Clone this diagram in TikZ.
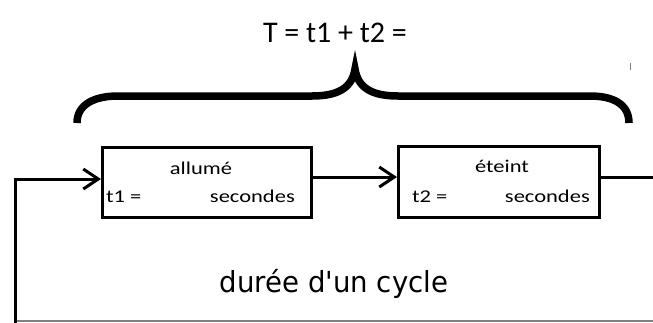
\documentclass[tikz,border=0pt]{standalone}
\usepackage{fontspec}
\setmainfont{Carlito}
\newfontfamily\boxfont[FakeStretch=1.25]{Carlito}
\newfontfamily\cyclefont[FakeStretch=0.95]{DejaVu Sans}
\usetikzlibrary{arrows.meta}
\begin{document}
\begin{tikzpicture}[x=1pt, y=-1pt,
    stage/.style={draw, line width=3pt, minimum width=209pt, minimum height=70pt,
                  inner sep=0pt},
    boxtxt/.style={font=\boxfont\fontsize{18}{20}\selectfont, inner sep=0pt},
    wire/.style={line width=3pt},
    flow/.style={wire, -{Straight Barb[length=15pt, width=20pt]}}]
  \useasboundingbox (0,0) rectangle (653,322);

  %% ── Title and brace ──────────────────────────────────────
  \node[anchor=base, inner sep=0pt, font=\fontsize{30}{34}\selectfont]
    (total) at (335,42) {T = t1 + t2 =};
  \draw[line width=7.5pt]
    (77,123) .. controls (77,104) and (95,96) .. (118,96) -- (312,96)
    .. controls (338,96) and (352,88) .. (355,69)
    .. controls (358,88) and (372,96) .. (398,96) -- (590,96)
    .. controls (613,96) and (629,104) .. (629,123);
  \draw[gray, line width=1pt] (630,63) -- (630,70);

  %% ── The two stages ───────────────────────────────────────
  \node[stage] (on)  at (207,182) {};
  \node[stage, minimum width=201pt, minimum height=71pt] (off) at (499,182) {};
  \node[boxtxt, anchor=base]      (onname)  at (201,174) {allumé};
  \node[boxtxt, anchor=base west] (onval)   at (106,202) {t1 =};
  \node[boxtxt, anchor=base east] (onunit)  at (295,202) {secondes};
  \node[boxtxt, anchor=base]      (offname) at (502,172) {éteint};
  \node[boxtxt, anchor=base west] (offval)  at (412,202) {t2 =};
  \node[boxtxt, anchor=base east] (offunit) at (590,202) {secondes};

  %% ── Cycle loop ───────────────────────────────────────────
  \coordinate (exit)    at (653,177);
  \coordinate (bottomR) at (653,321);
  \coordinate (bottomL) at (15,321);
  \coordinate (loopTop) at (15,179);
  \draw[flow] ([yshift=5pt]on.east) -- ([yshift=5pt]off.west);
  \draw[wire] ([yshift=5pt]off.east) -- (exit);
  \draw[gray, line width=2pt] (bottomR) -- (bottomL);
  \draw[wire] ([yshift=-1.5pt]bottomL) -- (loopTop);
  \draw[flow] ([xshift=-1.5pt]loopTop) -- ([yshift=3pt]on.west);
  \node[font=\cyclefont\fontsize{29}{32}\selectfont, anchor=base, inner sep=0pt]
    (cycle) at (334,292) {durée d'un cycle};
\end{tikzpicture}
\end{document}
